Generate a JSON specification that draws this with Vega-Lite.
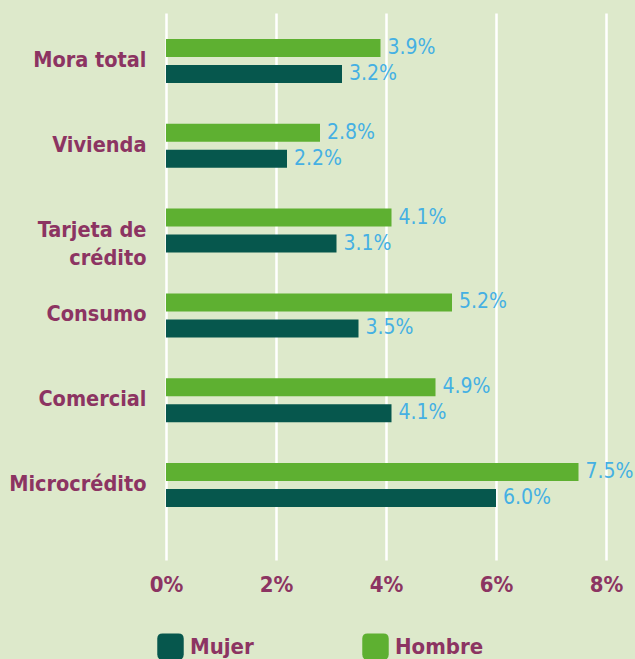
{
  "$schema": "https://vega.github.io/schema/vega-lite/v6.json",
  "autosize": {"type": "none"},
  "width": 440,
  "height": 547,
  "padding": {"left": 166, "top": 13, "right": 29, "bottom": 99},
  "background": "#dde9cb",
  "config": {
    "view": {"stroke": null},
    "font": "DejaVu Sans Condensed"
  },
  "data": {
    "values": [
      {"categoria": "Mora total", "sexo": "Hombre", "valor": 3.9},
      {"categoria": "Mora total", "sexo": "Mujer", "valor": 3.2},
      {"categoria": "Vivienda", "sexo": "Hombre", "valor": 2.8},
      {"categoria": "Vivienda", "sexo": "Mujer", "valor": 2.2},
      {"categoria": "Tarjeta de crédito", "sexo": "Hombre", "valor": 4.1},
      {"categoria": "Tarjeta de crédito", "sexo": "Mujer", "valor": 3.1},
      {"categoria": "Consumo", "sexo": "Hombre", "valor": 5.2},
      {"categoria": "Consumo", "sexo": "Mujer", "valor": 3.5},
      {"categoria": "Comercial", "sexo": "Hombre", "valor": 4.9},
      {"categoria": "Comercial", "sexo": "Mujer", "valor": 4.1},
      {"categoria": "Microcrédito", "sexo": "Hombre", "valor": 7.5},
      {"categoria": "Microcrédito", "sexo": "Mujer", "valor": 6.0}
    ]
  },
  "encoding": {
    "y": {
      "field": "categoria",
      "type": "nominal",
      "sort": ["Mora total", "Vivienda", "Tarjeta de crédito", "Consumo", "Comercial", "Microcrédito"],
      "scale": {"paddingInner": 0.481, "paddingOuter": 0.466, "align": 0.329},
      "axis": {
        "title": null,
        "domain": false,
        "ticks": false,
        "labelPadding": 20,
        "labelFontSize": 21.5,
        "labelFontWeight": "bold",
        "labelColor": "#8c3462",
        "labelLineHeight": 28,
        "labelLimit": 200,
        "labelExpr": "datum.label == 'Tarjeta de crédito' ? ['Tarjeta de', 'crédito'] : datum.label"
      }
    },
    "yOffset": {
      "field": "sexo",
      "type": "nominal",
      "sort": ["Hombre", "Mujer"],
      "scale": {"paddingInner": 0.3077, "paddingOuter": 0}
    },
    "x": {
      "field": "valor",
      "type": "quantitative",
      "scale": {"domain": [0, 8], "nice": false},
      "axis": {
        "title": null,
        "values": [0, 2, 4, 6, 8],
        "labelExpr": "datum.value + '%'",
        "domain": false,
        "ticks": false,
        "grid": true,
        "gridColor": "#ffffff",
        "gridWidth": 2.5,
        "gridOpacity": 1,
        "labelPadding": 14,
        "labelFontSize": 22,
        "labelFontWeight": "bold",
        "labelColor": "#8c3462",
        "labelFlush": false
      }
    }
  },
  "layer": [
    {
      "mark": {"type": "bar"},
      "encoding": {
        "color": {
          "field": "sexo",
          "type": "nominal",
          "scale": {"domain": ["Mujer", "Hombre"], "range": ["#06574d", "#5eb031"]},
          "legend": {
            "title": null,
            "orient": "none",
            "legendX": -9,
            "legendY": 620,
            "direction": "horizontal",
            "columns": 2,
            "columnPadding": 108,
            "symbolType": "M-1,-0.6Q-1,-1,-0.6,-1L0.6,-1Q1,-1,1,-0.6L1,0.6Q1,1,0.6,1L-0.6,1Q-1,1,-1,0.6Z",
            "symbolSize": 700,
            "symbolOpacity": 1,
            "symbolStrokeWidth": 0,
            "labelFontSize": 22,
            "labelFontWeight": "bold",
            "labelColor": "#8c3462",
            "labelOffset": 6
          }
        }
      }
    },
    {
      "mark": {
        "type": "text",
        "align": "left",
        "baseline": "middle",
        "dx": 7,
        "fontSize": 21,
        "color": "#45b0e3",
        "text": {"expr": "format(datum.valor, '.1f') + '%'"}
      },
      "encoding": {
        "color": {"value": "#45b0e3"}
      }
    }
  ]
}
